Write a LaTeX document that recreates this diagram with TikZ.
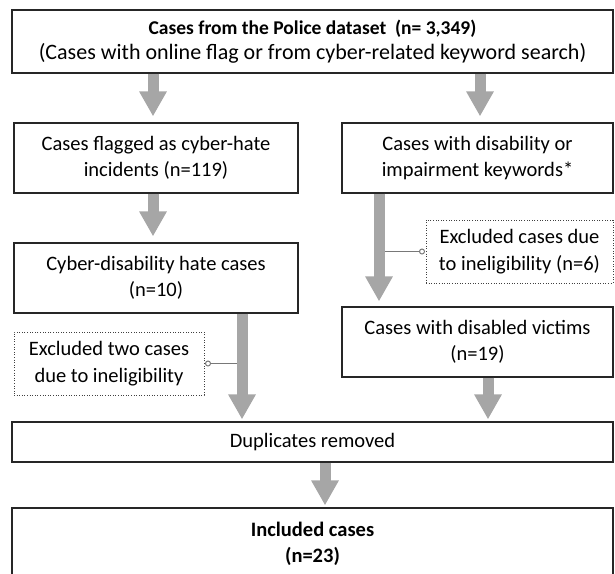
\documentclass[tikz,border=0pt]{standalone}
\usepackage{fontspec}
\setmainfont{Carlito}
\usetikzlibrary{arrows.meta}
\definecolor{arrowgray}{RGB}{166,166,166}
\definecolor{linkgray}{RGB}{120,120,120}
\tikzset{
  box/.style={draw=black!85, line width=1.3pt, fill=white, align=center, inner sep=0pt,
    font=\fontsize{20.5}{26.5}\selectfont},
  dotbox/.style={draw=black!75, line width=1pt, dash pattern=on 1pt off 1.6pt, fill=white,
    align=center, inner sep=0pt, font=\fontsize{20.5}{26.5}\selectfont},
  bigarrow/.style={draw=arrowgray, line width=11pt,
    -{Triangle[width=26pt,length=25pt]}},
  link/.style={draw=linkgray, line width=1pt, -{Circle[open,length=6pt,width=6pt,fill=white]}}
}
\begin{document}
\begin{tikzpicture}[x=1pt,y=-1pt]
\useasboundingbox (0,0) rectangle (615,573);
% boxes
\node[box, minimum width=601pt, minimum height=63pt, font=\fontsize{22}{25.5}\selectfont] (top) at (312.5,41.5)
  {{\fontsize{19.5}{25.5}\selectfont\textbf{Cases from the Police dataset \ (n= 3,349)}}\\(Cases with online flag or from cyber-related keyword search)};
\node[box, minimum width=284pt, minimum height=70pt] (flag) at (156,158)
  {Cases flagged as cyber-hate\\incidents (n=119)};
\node[box, minimum width=271pt, minimum height=70pt] (kw) at (477.5,158)
  {Cases with disability or\\impairment keywords*};
\node[box, minimum width=284pt, minimum height=70pt] (cdh) at (156,278)
  {Cyber-disability hate cases\\(n=10)};
\node[dotbox, minimum width=187pt, minimum height=63pt] (exR) at (519.5,251.5)
  {Excluded cases due\\to ineligibility (n=6)};
\node[box, minimum width=271pt, minimum height=70pt] (vic) at (477.5,342)
  {Cases with disabled victims\\(n=19)};
\node[dotbox, minimum width=190pt, minimum height=63pt] (exL) at (109,363.5)
  {Excluded two cases\\due to ineligibility};
\node[box, minimum width=601pt, minimum height=40pt] (dup) at (312.5,442)
  {Duplicates removed};
\node[box, minimum width=601pt, minimum height=72pt] (inc) at (312.5,544)
  {\textbf{Included cases}\\\textbf{(n=23)}};
% x positions of the arrows
\coordinate (xA) at (153,0);
\coordinate (xB) at (480,0);
\coordinate (xC) at (379,0);
\coordinate (xD) at (242,0);
\coordinate (xE) at (488,0);
\coordinate (xF) at (325,0);
% exclusion links
\draw[link] (exR.west -| xC) -- ([xshift=-0.5pt]exR.west);
\draw[link] (exL.east -| xD) -- ([xshift=0.5pt]exL.east);
% arrows
\draw[bigarrow, shorten >=6pt] (top.south -| xA) -- (flag.north -| xA);
\draw[bigarrow, shorten >=6pt] (top.south -| xB) -- (kw.north -| xB);
\draw[bigarrow, shorten >=6pt] (flag.south -| xA) -- (cdh.north -| xA);
\draw[bigarrow, shorten >=5pt] (kw.south -| xC) -- (vic.north -| xC);
\draw[bigarrow, shorten >=2pt] (cdh.south -| xD) -- (dup.north -| xD);
\draw[bigarrow, shorten >=2pt] (vic.south -| xE) -- (dup.north -| xE);
\draw[bigarrow, shorten >=2pt] (dup.south -| xF) -- (inc.north -| xF);
\end{tikzpicture}
\end{document}
